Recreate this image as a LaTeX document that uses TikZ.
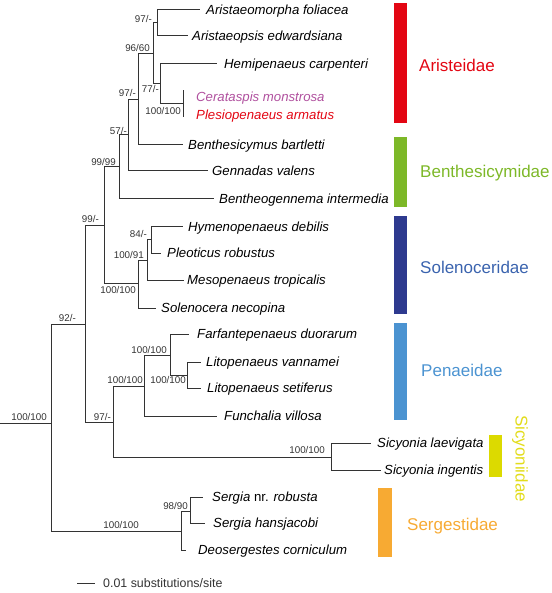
\documentclass[tikz,border=0pt]{standalone}
\usepackage{fontspec}
\setmainfont{Liberation Sans}
\definecolor{treeline}{HTML}{333333}
\definecolor{aristred}{HTML}{E30613}
\definecolor{ceratpurp}{HTML}{B0509E}
\definecolor{benthgreen}{HTML}{7DB828}
\definecolor{solbar}{HTML}{2E3A8F}
\definecolor{soltext}{HTML}{3A63AE}
\definecolor{penblue}{HTML}{4B93D1}
\definecolor{sicyel}{HTML}{DCDA00}
\definecolor{sicytext}{HTML}{E2DC1B}
\definecolor{serorange}{HTML}{F7AA33}
\begin{document}
\begin{tikzpicture}[x=1pt,y=-1pt,
  br/.style={draw=treeline,line width=1.0pt,line cap=rect},
  sp/.style={anchor=base west,yshift=-4.4pt,inner sep=0pt,font=\fontsize{13.2}{15}\selectfont\itshape},
  supl/.style={anchor=base east,yshift=-3.5pt,inner sep=0pt,font=\fontsize{9.8}{11}\selectfont,text=treeline},
  fam/.style={anchor=base west,yshift=-6.1pt,inner sep=0pt,font=\fontsize{17}{19}\selectfont},
  famsic/.style={anchor=center,inner sep=0pt,rotate=-90,font=\fontsize{17}{19}\selectfont}]
\useasboundingbox (0,0) rectangle (551,593);
% ---- tips ----
\coordinate (t1) at (199,10);
\coordinate (t2) at (187,36);
\coordinate (t3) at (216,64);
\coordinate (tC) at (183,91);
\coordinate (tP) at (183,117);
\coordinate (t6) at (182,145);
\coordinate (t7) at (207,171);
\coordinate (t8) at (213,199);
\coordinate (t9) at (182,227);
\coordinate (t10) at (160,253);
\coordinate (t11) at (183,280);
\coordinate (t12) at (155,308);
\coordinate (t13) at (188,334);
\coordinate (t14) at (200,362);
\coordinate (t15) at (200,388);
\coordinate (t16) at (216,416);
\coordinate (t17) at (370,443);
\coordinate (t18) at (380,470);
\coordinate (t19) at (202,497);
\coordinate (t20) at (204,523);
\coordinate (t21) at (185,550);
% ---- internal nodes ----
\coordinate (nA) at (157,23);
\coordinate (nCP) at (183,104);
\coordinate (n77) at (160,84);
\coordinate (n96) at (153,54);
\coordinate (n97b) at (138,100);
\coordinate (n57) at (128,135);
\coordinate (n99) at (119,167);
\coordinate (n84) at (151,240);
\coordinate (n91) at (147,260);
\coordinate (nSol) at (138,283);
\coordinate (n99m) at (104,226);
\coordinate (nLito) at (187,375);
\coordinate (nFL) at (170,355);
\coordinate (nPen) at (144,386);
\coordinate (nSic) at (331,457);
\coordinate (n97c) at (113,422);
\coordinate (n92) at (85,324);
\coordinate (nSg) at (190,511);
\coordinate (nSer) at (181,531);
\coordinate (root) at (51,423);
\coordinate (base) at (0,423);
% ---- branches ----
\draw[br] (nA) |- (t1);
\draw[br] (nA) |- (t2);
\draw[br] (nCP) -- (tC);
\draw[br] (nCP) -- (tP);
\draw[br] (n77) |- (t3);
\draw[br] (n77) |- (nCP);
\draw[br] (n96) |- (nA);
\draw[br] (n96) |- (n77);
\draw[br] (n97b) |- (n96);
\draw[br] (n97b) |- (t6);
\draw[br] (n57) |- (n97b);
\draw[br] (n57) |- (t7);
\draw[br] (n99) |- (n57);
\draw[br] (n99) |- (t8);
\draw[br] (n84) |- (t9);
\draw[br] (n84) |- (t10);
\draw[br] (n91) |- (n84);
\draw[br] (n91) |- (t11);
\draw[br] (nSol) |- (n91);
\draw[br] (nSol) |- (t12);
\draw[br] (n99m) |- (n99);
\draw[br] (n99m) |- (nSol);
\draw[br] (nLito) |- (t14);
\draw[br] (nLito) |- (t15);
\draw[br] (nFL) |- (t13);
\draw[br] (nFL) |- (nLito);
\draw[br] (nPen) |- (nFL);
\draw[br] (nPen) |- (t16);
\draw[br] (nSic) |- (t17);
\draw[br] (nSic) |- (t18);
\draw[br] (n97c) |- (nPen);
\draw[br] (n97c) |- (nSic);
\draw[br] (n92) |- (n99m);
\draw[br] (n92) |- (n97c);
\draw[br] (nSg) |- (t19);
\draw[br] (nSg) |- (t20);
\draw[br] (nSer) |- (nSg);
\draw[br] (nSer) |- (t21);
\draw[br] (root) |- (n92);
\draw[br] (root) |- (nSer);
\draw[br] (base) -- (root);
% ---- species labels ----
\node[sp] (l1) at (206,10) {Aristaeomorpha foliacea};
\node[sp] (l2) at (192,36) {Aristaeopsis edwardsiana};
\node[sp] (l3) at (224,64) {Hemipenaeus carpenteri};
\node[sp,text=ceratpurp] (l4) at (196,97) {Cerataspis monstrosa};
\node[sp,text=aristred] (l5) at (196,115) {Plesiopenaeus armatus};
\node[sp] (l6) at (188,145) {Benthesicymus bartletti};
\node[sp] (l7) at (212,171) {Gennadas valens};
\node[sp] (l8) at (219,199) {Bentheogennema intermedia};
\node[sp] (l9) at (188,227) {Hymenopenaeus debilis};
\node[sp] (l10) at (167,253) {Pleoticus robustus};
\node[sp] (l11) at (187,280) {Mesopenaeus tropicalis};
\node[sp] (l12) at (161,308) {Solenocera necopina};
\node[sp] (l13) at (197,334) {Farfantepenaeus duorarum};
\node[sp] (l14) at (206,362) {Litopenaeus vannamei};
\node[sp] (l15) at (207,388) {Litopenaeus setiferus};
\node[sp] (l16) at (224,416) {Funchalia villosa};
\node[sp] (l17) at (377,443) {Sicyonia laevigata};
\node[sp] (l18) at (384,470) {Sicyonia ingentis};
\node[sp] (l19) at (212,497) {Sergia \upshape nr. \itshape robusta};
\node[sp] (l20) at (213,523) {Sergia hansjacobi};
\node[sp] (l21) at (198,550) {Deosergestes corniculum};
% ---- support values ----
\node[supl] (s1) at (152,19) {97/-};
\node[supl] (s2) at (150,48) {96/60};
\node[supl] (s3) at (159,89) {77/-};
\node[supl] (s4) at (181,111) {100/100};
\node[supl] (s5) at (136,93) {97/-};
\node[supl] (s6) at (127,131) {57/-};
\node[supl] (s7) at (116,162) {99/99};
\node[supl] (s8) at (99,219) {99/-};
\node[supl] (s9) at (147,234) {84/-};
\node[supl] (s10) at (144,255) {100/91};
\node[supl] (s11) at (136,290) {100/100};
\node[supl] (s12) at (76,318) {92/-};
\node[supl] (s13) at (167,350) {100/100};
\node[supl] (s14) at (186,380) {100/100};
\node[supl] (s15) at (143,380) {100/100};
\node[supl] (s16) at (111,417) {97/-};
\node[supl] (s17) at (47,417) {100/100};
\node[supl] (s18) at (325,450) {100/100};
\node[supl] (s19) at (139,525) {100/100};
\node[supl] (s20) at (188,506) {98/90};
% ---- family bars ----
\fill[aristred] (394,3) rectangle (407,123);
\fill[benthgreen] (394,137) rectangle (407,207);
\fill[solbar] (394,216) rectangle (407,314);
\fill[penblue] (394,323) rectangle (407,420);
\fill[sicyel] (489,435) rectangle (502,477);
\fill[serorange] (378,488) rectangle (392,557);
\node[fam,text=aristred] (f1) at (419,65) {Aristeidae};
\node[fam,text=benthgreen] (f2) at (420,171) {Benthesicymidae};
\node[fam,text=soltext] (f3) at (420,267) {Solenoceridae};
\node[fam,text=penblue] (f4) at (421,370) {Penaeidae};
\node[famsic,text=sicytext] (f5) at (520,458.5) {Sicyoniidae};
\node[fam,text=serorange] (f6) at (407,524) {Sergestidae};
% ---- scale bar ----
\coordinate (sb1) at (77,583);
\coordinate (sb2) at (95,583);
\draw[br,line cap=butt] (sb1) -- (sb2);
\node[anchor=base west,yshift=-4.4pt,inner sep=0pt,font=\fontsize{12.4}{14}\selectfont,text=treeline] (sbl) at (103,583) {0.01 substitutions/site};
\end{tikzpicture}
\end{document}
